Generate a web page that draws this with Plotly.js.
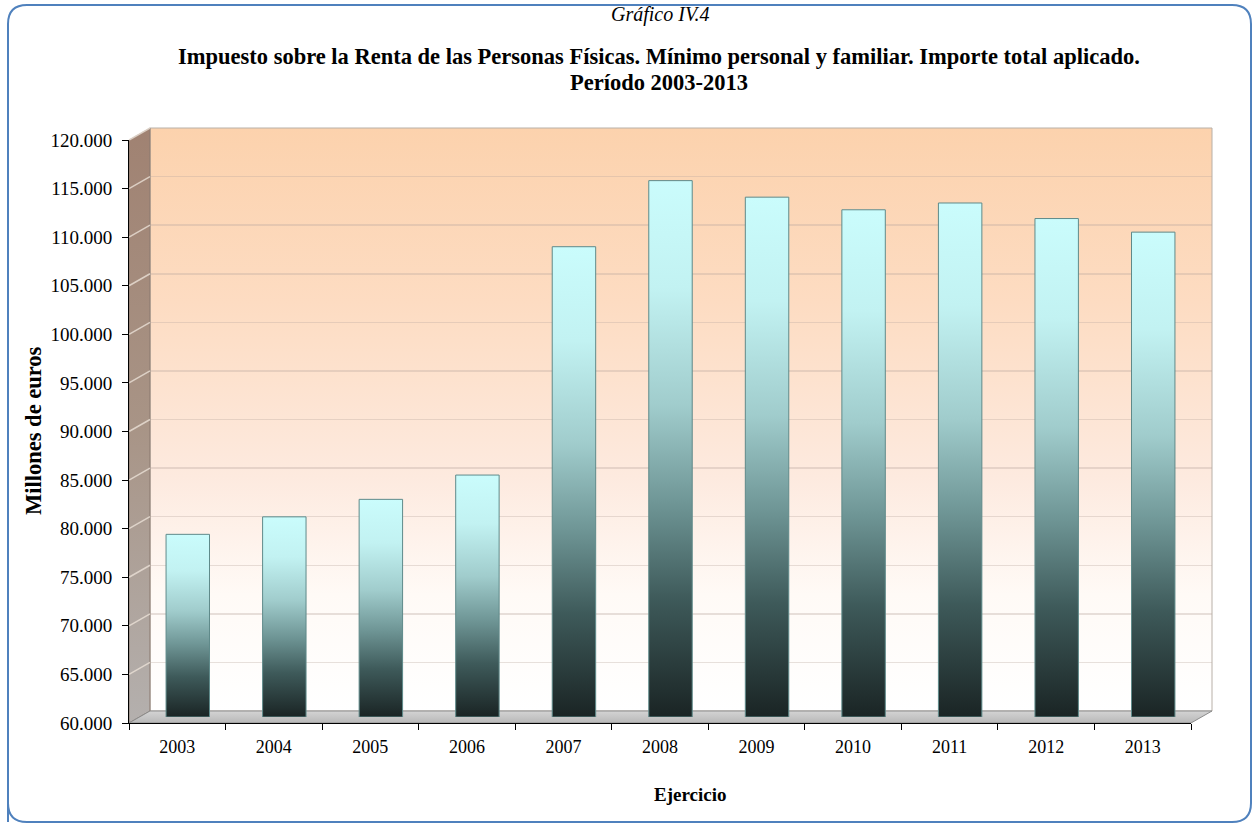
<!DOCTYPE html>
<html>
<head>
<meta charset="utf-8">
<script src="https://cdn.plot.ly/plotly-3.0.1.min.js"></script>
<style>
  html, body { margin: 0; padding: 0; background: #ffffff; }
  #chart { width: 1253px; height: 823px; }
</style>
</head>
<body>
<div id="chart"></div>
<script>
// ---- Data ----
const years = ['2003','2004','2005','2006','2007','2008','2009','2010','2011','2012','2013'];
const importe = [78800, 80600, 82400, 84900, 108400, 115200, 113500, 112200, 112900, 111300, 109900];
const yTickVals = [60000, 65000, 70000, 75000, 80000, 85000, 90000, 95000, 100000, 105000, 110000, 115000, 120000];
const yRange = [60000, 120000];
const barBase = 60000;

const titleSup = 'Gráfico IV.4';
const titleMain = 'Impuesto sobre la Renta de las Personas Físicas. Mínimo personal y familiar. Importe total aplicado.';
const titleSub = 'Período 2003-2013';
const xTitle = 'Ejercicio';
const yTitle = 'Millones de euros';

// ---- Geometry (pixel layout of the 3D frame) ----
const FIG_W = 1253, FIG_H = 823;
const L = 129, T = 128, R = 41, B = 100;
const W = FIG_W - L - R, H = FIG_H - T - B;
const DX = 21, DY = 12; // depth offset of back wall
const px = x => (x - L) / W;
const py = y => (T + H - y) / H;

const serif = 'Liberation Serif, Times New Roman, serif';

const frontX = [0, (W - DX) / W];
const frontY = [0, (H - DY) / H];
const backX = [DX / W, 1];
const backY = [DY / H, 1];
const midX = [0.5 * DX / W, (W - 0.5 * DX) / W];
const midY = [0.5 * DY / H, (H - 0.5 * DY) / H];

const traces = [
  // invisible helper so the front axes (ticks/labels) are drawn
  { type: 'scatter', mode: 'markers', x: years, y: importe, xaxis: 'x', yaxis: 'y',
    marker: { opacity: 0, size: 1 }, hoverinfo: 'skip' },
  // invisible helper so the back-wall gridlines are drawn
  { type: 'scatter', mode: 'markers', x: years, y: importe, xaxis: 'x2', yaxis: 'y2',
    marker: { opacity: 0, size: 1 }, hoverinfo: 'skip' },
  // the bars, at mid depth
  { type: 'bar', x: years, y: importe.map(v => v - barBase), base: barBase,
    xaxis: 'x3', yaxis: 'y3', width: 0.45,
    marker: { color: '#8fbcbc', line: { color: '#5f8a8a', width: 1 } },
    hoverinfo: 'x' }
];

function pathStr(pts) {
  return 'M ' + pts.map(p => px(p[0]).toFixed(5) + ',' + py(p[1]).toFixed(5)).join(' L ') + ' Z';
}

// front-scale pixel for a value (for the side-wall slant lines)
const fy = v => (T + DY) + (H - DY) * (1 - (v - yRange[0]) / (yRange[1] - yRange[0]));

const shapes = [
  // 0 back wall
  { type: 'rect', xref: 'paper', yref: 'paper', layer: 'below',
    x0: px(L + DX), x1: px(L + W), y0: py(T + H - DY), y1: py(T),
    fillcolor: '#fde3cf', line: { color: '#b8b0a8', width: 1 } },
  // 1 side wall
  { type: 'path', xref: 'paper', yref: 'paper', layer: 'below',
    path: pathStr([[L, T + H], [L, T + DY], [L + DX, T], [L + DX, T + H - DY]]),
    fillcolor: '#a89080', line: { color: '#8a7a70', width: 1 } },
  // 2 floor
  { type: 'path', xref: 'paper', yref: 'paper', layer: 'below',
    path: pathStr([[L, T + H], [L + W - DX, T + H], [L + W, T + H - DY], [L + DX, T + H - DY]]),
    fillcolor: '#c6c6c6', line: { color: '#8c8c8c', width: 1 } },
  // 3 outer rounded border
  { type: 'path', xref: 'paper', yref: 'paper', layer: 'below',
    path: 'M ' + px(8) + ',' + py(822) + ' L ' + px(8) + ',' + py(24) +
          ' Q ' + px(8) + ',' + py(5) + ' ' + px(27) + ',' + py(5) +
          ' L ' + px(1232) + ',' + py(5) +
          ' Q ' + px(1251) + ',' + py(5) + ' ' + px(1251) + ',' + py(24) +
          ' L ' + px(1251) + ',' + py(803) +
          ' Q ' + px(1251) + ',' + py(822) + ' ' + px(1232) + ',' + py(822) +
          ' L ' + px(27) + ',' + py(822) +
          ' Q ' + px(8) + ',' + py(822) + ' ' + px(8) + ',' + py(803) + ' Z',
    fillcolor: 'rgba(0,0,0,0)', line: { color: '#4f81bd', width: 2 } }
];
// slant lines on side wall
yTickVals.slice(1).forEach(v => {
  shapes.push({ type: 'line', xref: 'paper', yref: 'paper', layer: 'below',
    x0: px(L), y0: py(fy(v)), x1: px(L + DX), y1: py(fy(v) - DY),
    line: { color: 'rgba(235,225,215,0.8)', width: 1.5 } });
});

const annotations = [
  { text: '<i>' + titleSup + '</i>', xref: 'paper', yref: 'paper', x: px(660), y: py(14),
    showarrow: false, font: { family: serif, size: 20, color: '#000' }, xanchor: 'center', yanchor: 'middle' },
  { text: '<b>' + titleMain + '</b>', xref: 'paper', yref: 'paper', x: px(659), y: py(57),
    showarrow: false, font: { family: serif, size: 22.5, color: '#000' }, xanchor: 'center', yanchor: 'middle' },
  { text: '<b>' + titleSub + '</b>', xref: 'paper', yref: 'paper', x: px(659), y: py(82),
    showarrow: false, font: { family: serif, size: 22.5, color: '#000' }, xanchor: 'center', yanchor: 'middle' },
  { text: '<b>' + xTitle + '</b>', xref: 'paper', yref: 'paper', x: px(690), y: py(794),
    showarrow: false, font: { family: serif, size: 19, color: '#000' }, xanchor: 'center', yanchor: 'middle' },
  { text: '<b>' + yTitle + '</b>', xref: 'paper', yref: 'paper', x: px(33), y: py(431),
    showarrow: false, textangle: -90, font: { family: serif, size: 22.5, color: '#000' }, xanchor: 'center', yanchor: 'middle' }
];

const layout = {
  width: FIG_W, height: FIG_H,
  margin: { l: L, r: R, t: T, b: B, pad: 0 },
  paper_bgcolor: '#ffffff',
  plot_bgcolor: 'rgba(0,0,0,0)',
  showlegend: false,
  separators: ',.',
  font: { family: serif, size: 18, color: '#000' },
  // front axes (ticks & labels)
  xaxis: { domain: frontX, anchor: 'y', type: 'category', categoryorder: 'array', categoryarray: years,
    range: [-0.5, years.length - 0.5],
    showgrid: false, zeroline: false, showline: true, linecolor: '#000', linewidth: 1,
    ticks: 'outside', tickson: 'boundaries', ticklen: 6, tickcolor: '#000', ticklabelstandoff: 7,
    tickfont: { family: serif, size: 18, color: '#000' }, fixedrange: true },
  yaxis: { domain: frontY, anchor: 'x', range: yRange, tickvals: yTickVals, tickformat: ',d',
    showgrid: false, zeroline: false, showline: true, linecolor: '#000', linewidth: 1,
    ticks: 'outside', ticklen: 6, tickcolor: '#000', ticklabelstandoff: 6,
    tickfont: { family: serif, size: 19, color: '#000' }, fixedrange: true },
  // back wall axes (gridlines)
  xaxis2: { domain: backX, anchor: 'y2', type: 'category', categoryorder: 'array', categoryarray: years,
    range: [-0.5, years.length - 0.5],
    showgrid: false, zeroline: false, showline: false, ticks: '', showticklabels: false, fixedrange: true },
  yaxis2: { domain: backY, anchor: 'x2', range: yRange, tickvals: yTickVals,
    showgrid: true, gridcolor: 'rgba(185,170,160,0.35)', gridwidth: 1.5,
    zeroline: false, showline: false, ticks: '', showticklabels: false, fixedrange: true },
  // mid-depth axes (bars)
  xaxis3: { domain: midX, anchor: 'y3', type: 'category', categoryorder: 'array', categoryarray: years,
    range: [-0.5, years.length - 0.5],
    showgrid: false, zeroline: false, showline: false, ticks: '', showticklabels: false, fixedrange: true },
  yaxis3: { domain: midY, anchor: 'x3', range: yRange,
    showgrid: false, zeroline: false, showline: false, ticks: '', showticklabels: false, fixedrange: true },
  shapes: shapes,
  annotations: annotations
};

const gd = document.getElementById('chart');
Plotly.newPlot(gd, traces, layout, { displayModeBar: false, staticPlot: true }).then(() => {
  const svg = gd.querySelector('.main-svg');
  const NS = 'http://www.w3.org/2000/svg';
  let defs = svg.querySelector('defs');
  if (!defs) { defs = document.createElementNS(NS, 'defs'); svg.insertBefore(defs, svg.firstChild); }
  function grad(id, stops, horizontal) {
    const g = document.createElementNS(NS, 'linearGradient');
    g.setAttribute('id', id);
    g.setAttribute('x1', '0'); g.setAttribute('y1', '0');
    g.setAttribute('x2', horizontal ? '1' : '0'); g.setAttribute('y2', horizontal ? '0' : '1');
    stops.forEach(s => {
      const st = document.createElementNS(NS, 'stop');
      st.setAttribute('offset', s[0]); st.setAttribute('stop-color', s[1]);
      g.appendChild(st);
    });
    defs.appendChild(g);
  }
  grad('barGrad', [['0', '#cafcfc'], ['0.2', '#c2f2f2'], ['0.42', '#a0cccc'], ['0.6', '#6f9696'], ['0.78', '#3e5a5a'], ['1', '#1a2424']]);
  grad('wallGrad', [['0', '#fcd2ad'], ['0.3', '#fddcc2'], ['0.6', '#fdeadf'], ['0.8', '#fffaf6'], ['1', '#ffffff']]);
  grad('sideGrad', [['0', '#a08272'], ['0.5', '#a89486'], ['1', '#b4b0ae']]);
  grad('floorGrad', [['0', '#d4d4d4'], ['1', '#b8b8b8']]);
  gd.querySelectorAll('.trace.bars .point path').forEach(p => { p.style.fill = 'url(#barGrad)'; });
  const sl = gd.querySelectorAll('.layer-below .shapelayer path');
  sl.forEach(p => {
    const idx = p.getAttribute('data-index');
    if (idx === '0') p.style.fill = 'url(#wallGrad)';
    if (idx === '1') p.style.fill = 'url(#sideGrad)';
    if (idx === '2') p.style.fill = 'url(#floorGrad)';
  });
});
</script>
</body>
</html>
